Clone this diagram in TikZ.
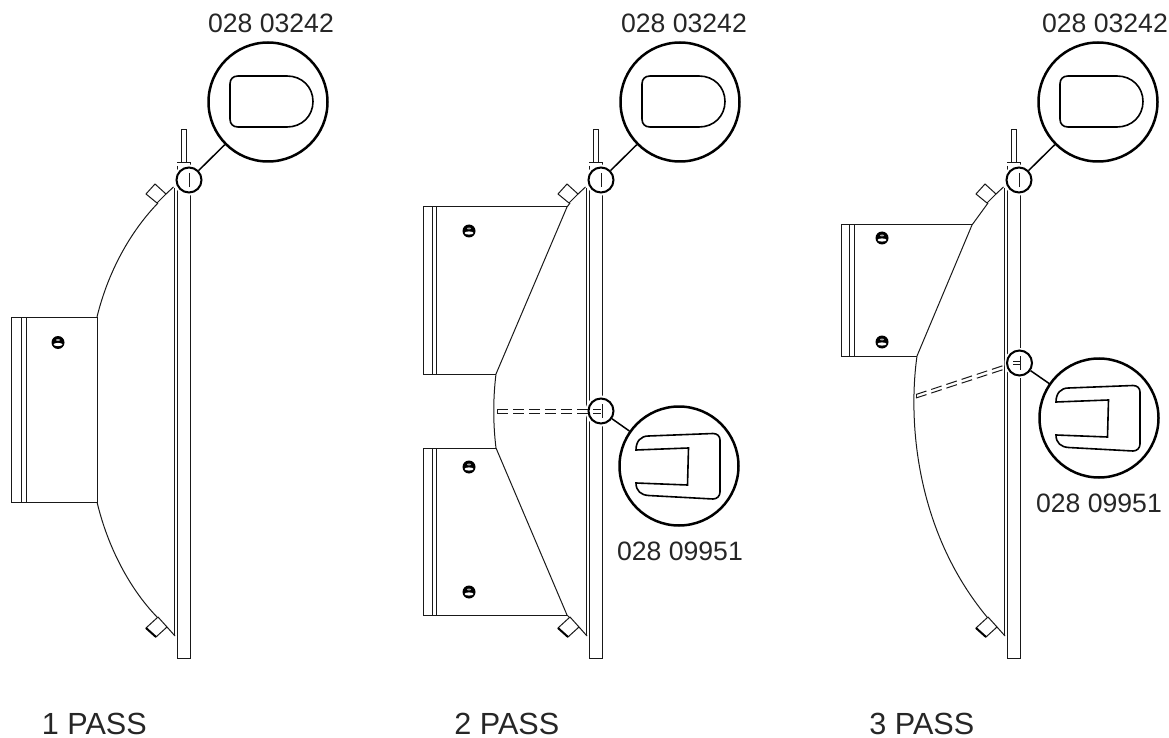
\documentclass[tikz,border=0pt]{standalone}
\usepackage{fontspec}
\setmainfont{Liberation Sans}
\usetikzlibrary{calc}
\tikzset{
    thinline/.style={line width=.5pt,draw=black!90},
    ringbig/.style={circle,draw,line width=1.25pt,fill=white,minimum size=59.5pt,inner sep=0pt},
    ringsmall/.style={circle,draw,line width=1pt,minimum size=12.5pt,inner sep=0pt},
    leader/.style={line width=.75pt},
    partno/.style={font=\fontsize{13.3pt}{15pt}\selectfont,text=black!85,inner sep=0pt},
    passname/.style={font=\fontsize{15.3pt}{18pt}\selectfont,text=black!85,inner sep=0pt,anchor=base west}
}

%the plate with both bosses and the top detail:
\newcommand{\plateparts}[1]{
    \draw[thinline] (174.7,188) -- (174.7,636);
    \draw[thinline] (177.4,166) -- (177.4,658) -- (190,658) -- (190,163) -- (177.4,163);
    \draw[thinline] (181,163) -- (181,130) -- (186,130) -- (186,163);
    \draw[thinline] (146,194) -- (155,184) -- (166,194) -- (157,203) -- cycle;
    \draw[thinline] (166,194) -- (173.5,187);
    \draw[thinline] (146,628) -- (158,617) -- (167,627) -- (156,637) -- cycle;
    \draw[line width=1pt] (146,628) -- (156,637);
    \draw[thinline] (167,627) -- (175,636);
    %top ring:
    \fill[white] (189,180) circle (15.5);
    \node[ringsmall] (small#1) at (189,180) {};
    \draw[thinline] (189.5,173) -- (189.5,187);
    \node[ringbig] (big#1) at (268,102) {};
    \draw[leader] (small#1) -- (big#1);
    \draw[line width=.8pt] (287,76) -- (238,76) .. controls (233,76) and (230,79) .. (230,84) -- (230,119)
        .. controls (230,124) and (233,127) .. (238,127) -- (287,127)
        .. controls (302,127) and (313,116) .. (313,101.5) .. controls (313,87) and (302,76) .. (287,76) -- cycle;
}

%the clip detail, drawn round its ring:
\newcommand{\clipshape}[1]{
    \begin{scope}[shift={(#1.center)}]
        \draw[line width=.8pt] (-43,-16) .. controls (-43,-25) and (-38,-30) .. (-30.5,-30) -- (34,-32.5)
            .. controls (38,-32.5) and (41,-30) .. (41,-26) -- (41,26)
            .. controls (41,30) and (38,33) .. (34,33) -- (-30.5,29.5)
            .. controls (-38,29) and (-43,25) .. (-43,17) -- (8.5,19) -- (9.5,-18) -- cycle;
    \end{scope}
}

%one nut on a collar:
\newcommand{\bolt}[1]{
    \fill (#1) ellipse (6.5 and 6.5);
    \fill[white] ($(#1)+(0,2)$) ellipse (4.5 and 1.6);
    \fill[black!35] ($(#1)+(0,-2.5)$) ellipse (2 and 1);
}

\begin{document}
\begin{tikzpicture}[x=.5pt,y=-.5pt]
    \useasboundingbox (0,0) rectangle (1169,738);

    %1 pass:
    \plateparts{a}
    \draw[thinline] (158,203) .. controls (130,232) and (108,272) .. (97,317);
    \draw[thinline] (97,502) .. controls (108,548) and (130,589) .. (157,617);
    \draw[thinline] (21,317) rectangle (11,502);
    \draw[thinline] (26,317) -- (97,317) -- (97,502) -- (26,502) -- cycle;
    \draw[thinline] (21,317) -- (26,317) (21,502) -- (26,502);
    \bolt{58,342.5}
    \node[partno] (numa) at (271,23) {028 03242};
    \node[passname] (passa) at (41.5,734.5) {1 PASS};

    %2 pass:
    \begin{scope}[shift={(412,0)}]
        \plateparts{b}
        %ring on the divider:
        \fill[white] (189,411) circle (15.5);
        \node[ringsmall] (lowb) at (189,411) {};
        \draw[thinline] (190,404) -- (190,418);
        \node[ringbig] (clipb) at (267,466) {};
        \draw[leader] (lowb) -- (clipb);
    \end{scope}
    \clipshape{clipb}
    \draw[thinline,dash pattern=on 5.5pt off 2.5pt] (497,409.5) -- (601,409.5);
    \draw[thinline,dash pattern=on 5.5pt off 2.5pt] (497,413) -- (601,413);
    \draw[thinline] (497,409.5) -- (497,413);
    \draw[thinline] (570,203) -- (567,207) -- (496,374) .. controls (493,398) and (493,424) .. (496,448) -- (567,615) -- (569,617);
    \foreach \y/\z in {207/374,448/615}{
        \draw[thinline] (423,\y) rectangle (432,\z);
        \draw[thinline] (436,\y) -- (436,\z);
        \draw[thinline] (432,\y) -- (436,\y) (432,\z) -- (436,\z);
    }
    \draw[thinline] (436,207) -- (567,207) (436,374) -- (496,374);
    \draw[thinline] (436,448) -- (496,448) (436,615) -- (567,615);
    \bolt{469,231}
    \bolt{469,467}
    \bolt{469,592}
    \node[partno] (numb) at (684,23) {028 03242};
    \node[partno] (clipnumb) at (680,551) {028 09951};
    \node[passname] (passb) at (454,734.5) {2 PASS};

    %3 pass:
    \begin{scope}[shift={(830,0)}]
        \plateparts{c}
        \fill[white] (189.5,363) circle (15);
        \node[ringsmall] (lowc) at (189.5,363) {};
        \draw[thinline] (190,356) -- (190,370);
        \draw[thinline] (183,361) -- (190,361) (183,364.5) -- (190,364.5);
        \node[ringbig] (clipc) at (269,418) {};
        \draw[leader] (lowc) -- (clipc);
    \end{scope}
    \clipshape{clipc}
    \draw[thinline,dash pattern=on 5.5pt off 2.5pt] (916,394.5) -- (1005,365);
    \draw[thinline,dash pattern=on 5.5pt off 2.5pt] (916,398) -- (1005,369);
    \draw[thinline] (916,394.5) -- (916,398);
    \draw[thinline] (988,203) -- (972,225) -- (917,356) .. controls (908,420) and (915,530) .. (987,617);
    \draw[thinline] (841,225) rectangle (849,356);
    \draw[thinline] (854,225) -- (854,356);
    \draw[thinline] (849,225) -- (972,225) (849,356) -- (917,356);
    \bolt{882,238}
    \bolt{882,342}
    \node[partno] (numc) at (1105,23) {028 03242};
    \node[partno] (clipnumc) at (1099,503) {028 09951};
    \node[passname] (passc) at (869,734.5) {3 PASS};

\end{tikzpicture}
\end{document}
